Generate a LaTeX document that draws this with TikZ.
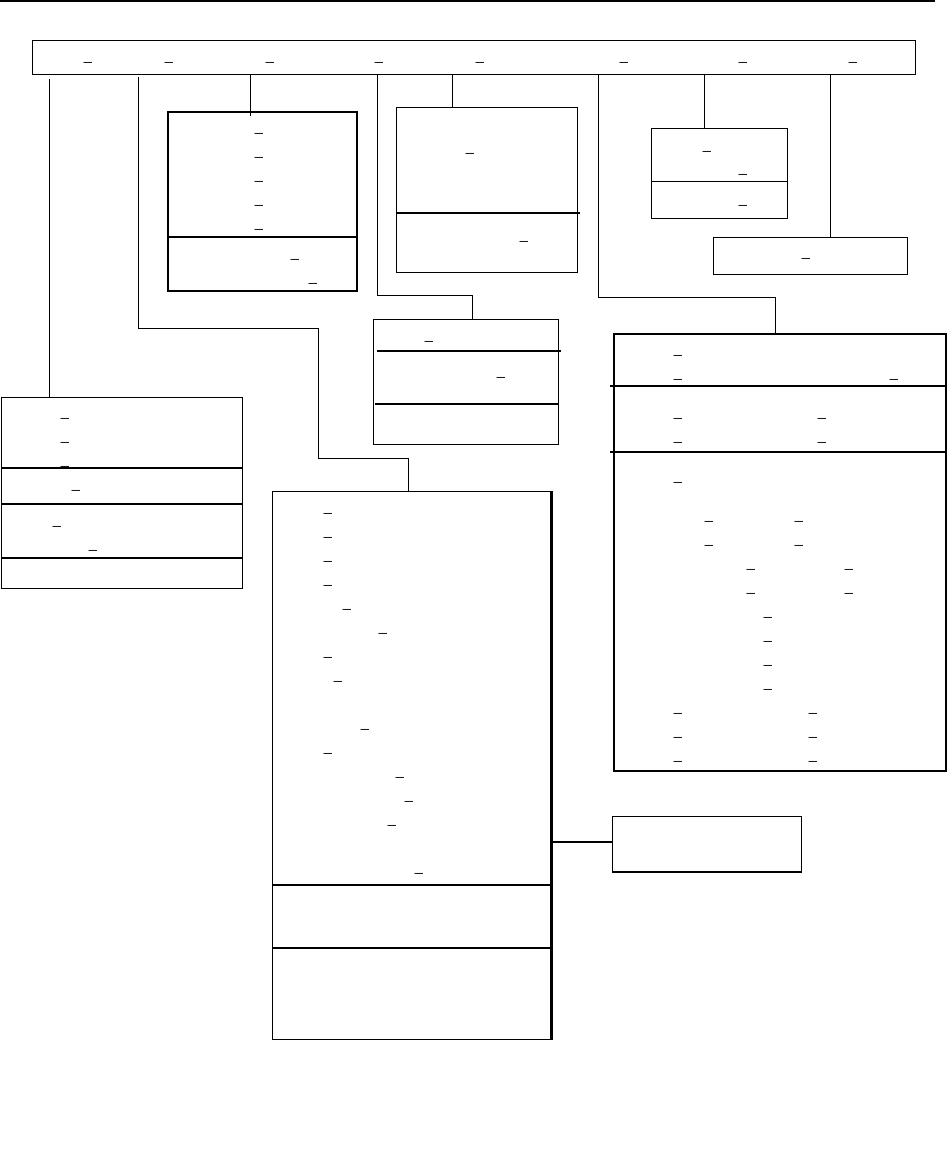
\documentclass[tikz,border=0pt]{standalone}
\usepackage{fontspec}
\setmainfont{Liberation Sans}
\begin{document}
\begin{tikzpicture}[x=1pt,y=-1pt,
  box/.style={draw=black,line width=1.3pt,inner sep=0pt,anchor=north west,fill=none},
  thickbox/.style={box,line width=2pt},
  thinbox/.style={box,line width=1pt},
  conn/.style={draw=black,line width=1pt},
  divider/.style={draw=black,line width=1.2pt},
  us/.style={inner sep=0pt,anchor=base,font=\fontsize{14.5}{17}\selectfont}]
\useasboundingbox (0,0) rectangle (949,1150);

% page rule
\coordinate (ruleL) at (0,1);
\coordinate (ruleR) at (935,1);
\draw[line width=1.2pt] (ruleL) -- (ruleR);

% boxes
\node[box,minimum width=883pt,minimum height=34pt] (top) at (32,40) {};
\node[thinbox,minimum width=241pt,minimum height=191pt] (lb) at (1,397) {};
\node[thickbox,minimum width=189pt,minimum height=179pt] (b2) at (167,111) {};
\node[box,minimum width=181pt,minimum height=165pt] (b3) at (396,107) {};
\node[box,minimum width=185pt,minimum height=125pt] (b4) at (373,319) {};
\node[thinbox,minimum width=136pt,minimum height=90pt] (b5) at (651,128) {};
\node[box,minimum width=194pt,minimum height=37pt] (b7) at (713,237) {};
\node[thickbox,minimum width=332pt,minimum height=437pt] (b6) at (613,333) {};
\node[box,minimum width=278pt,minimum height=548pt] (bb) at (272,491) {};
\draw[line width=2.4pt] (bb.north east) -- (bb.south east);
\node[box,minimum width=189pt,minimum height=55pt] (sb) at (612,816) {};
\draw[line width=2.2pt] (sb.south west) -- (sb.south east);

% dividers
\draw[divider] (lb.west |- 0,468) -- (lb.east |- 0,468);
\draw[divider] (lb.west |- 0,504) -- (lb.east |- 0,504);
\draw[divider] (lb.west |- 0,558) -- (lb.east |- 0,558);
\draw[divider,line width=2pt] (b2.west |- 0,237) -- (b2.east |- 0,237);
\draw[divider,line width=2pt] (b3.west |- 0,213) -- (580,213);
\draw[divider] (377,351) -- (561,351);
\draw[divider] (375,404) -- (b4.east |- 0,404);
\draw[divider,line width=1pt] (b5.west |- 0,182) -- (b5.east |- 0,182);
\draw[divider,line width=1.4pt] (610,386) -- (b6.east |- 0,386);
\draw[divider,line width=1.4pt] (610,452) -- (b6.east |- 0,452);
\draw[divider] (bb.west |- 0,885) -- (bb.east |- 0,885);
\draw[divider] (bb.west |- 0,948) -- (bb.east |- 0,948);

% connector start points on the top box
\coordinate (t1) at (49,79);
\coordinate (t2) at (138,77);
\coordinate (t3) at (250,74);
\coordinate (t4) at (377,74);
\coordinate (t5) at (452,74);
\coordinate (t6) at (598,74);
\coordinate (t7) at (704,74);
\coordinate (t8) at (830,74);

\draw[conn] (t1) -- (t1 |- lb.north);
\draw[conn] (t2) -- (138,328) -- (318,328) -- (318,458) -- (408,458) -- (408,491);
\draw[conn] (t3) -- (250,116);
\draw[conn] (t4) -- (377,295) -- (472,295) -- (472,319);
\draw[conn] (t5) -- (t5 |- b3.north);
\draw[conn] (t6) -- (598,297) -- (775,297) -- (775,333);
\draw[conn] (t7) -- (t7 |- b5.north);
\draw[conn] (t8) -- (t8 |- b7.north);
\draw[conn,line width=1.3pt] (bb.east |- 0,842) -- (sb.west |- 0,842);

% underscores (bar centre given; baseline 2.5 above)
\foreach \x [count=\i] in {88,169,270,379,480,624,743,853}
  \node[us] (tu\i) at (\x,60.5) {\_};
\foreach \x/\y [count=\i] in {65/419,65/443,65/467,76/491,57/527,93/551}
  \node[us] (lu\i) at (\x,\y-2.5) {\_};
\foreach \x/\y [count=\i] in {259/134,259/158,259/182,259/206,259/230,295/260,313/284}
  \node[us] (au\i) at (\x,\y-2.5) {\_};
\foreach \x/\y [count=\i] in {470/154,524/242}
  \node[us] (cu\i) at (\x,\y-2.5) {\_};
\foreach \x/\y [count=\i] in {429/342,501/378}
  \node[us] (du\i) at (\x,\y-2.5) {\_};
\foreach \x/\y [count=\i] in {707/152,743/175,743/206}
  \node[us] (eu\i) at (\x,\y-2.5) {\_};
\node[us] (gu1) at (806,256.5) {\_};
\foreach \x/\y [count=\i] in {678/356,678/380,894/380,678/419,822/419,678/443,822/443,
  678/483,709/522,799/522,709/546,799/546,751/570,849/570,751/594,849/594,
  768/618,768/642,768/666,768/690,678/714,813/714,678/738,813/738,678/762,813/762}
  \node[us] (fu\i) at (\x,\y-2.5) {\_};
\foreach \x/\y [count=\i] in {328/514,328/538,328/562,328/586,347/610,383/634,328/658,
  338/682,365/730,328/754,400/778,409/802,392/826,419/874}
  \node[us] (bu\i) at (\x,\y-2.5) {\_};
\end{tikzpicture}
\end{document}
